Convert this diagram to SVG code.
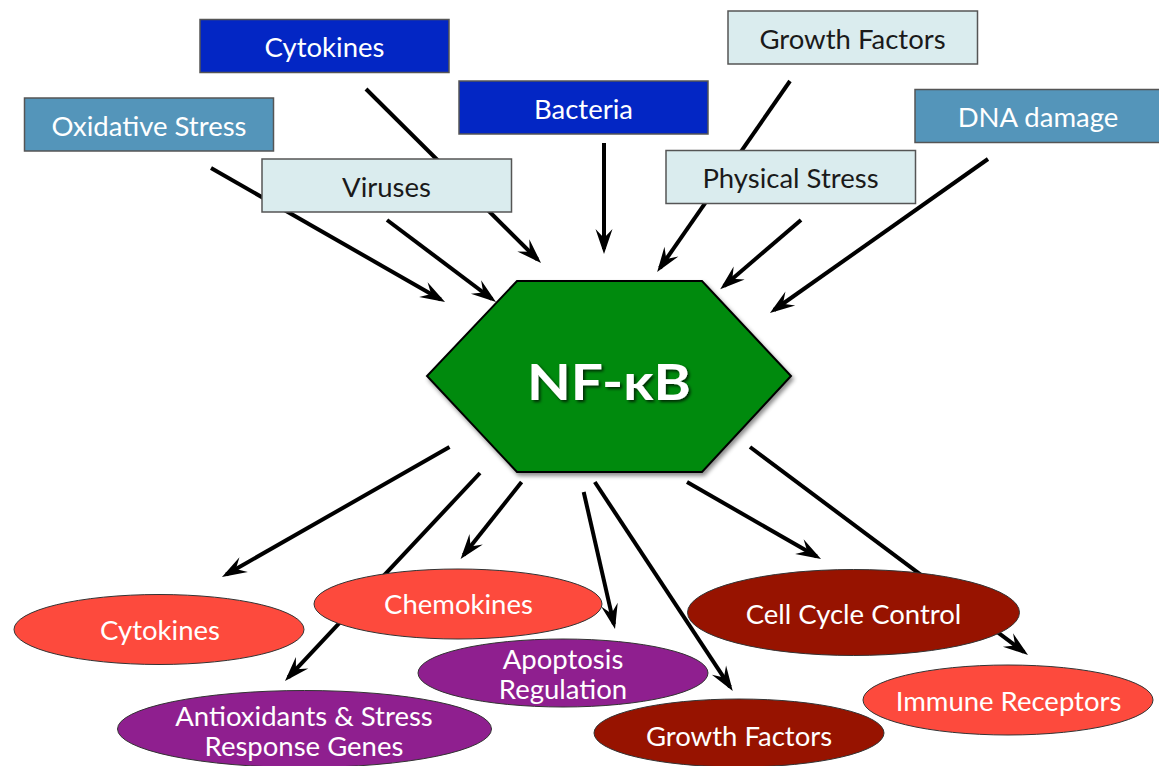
<svg xmlns="http://www.w3.org/2000/svg" width="1159" height="766" viewBox="0 0 1159 766">
<defs>
<marker id="ah" markerUnits="userSpaceOnUse" markerWidth="32" markerHeight="30" viewBox="-24 -12 32 24" refX="0" refY="0" orient="auto">
<path d="M5,0 L-20,-8.5 L-11,0 L-20,8.5 Z" fill="#000"/>
</marker>
<filter id="sh" x="-10%" y="-10%" width="130%" height="130%">
<feDropShadow dx="2" dy="3" stdDeviation="2" flood-color="#000" flood-opacity="0.45"/>
</filter>
<filter id="tsh" x="-10%" y="-10%" width="130%" height="140%">
<feDropShadow dx="2" dy="2" stdDeviation="1.5" flood-color="#000" flood-opacity="0.7"/>
</filter>
</defs>
<style>
.c{stroke:#000;stroke-width:4;fill:none;marker-end:url(#ah)}
.box{stroke:#555;stroke-width:1.5}
.db{fill:#0326C4}
.sb{fill:#5495BA}
.lb{fill:#DAECEE}
.t{font-family:Lato,"Open Sans",sans-serif;font-size:27.5px;text-anchor:middle}
.w{fill:#fff}
.k{fill:#1a1a1a}
.el{stroke:#333;stroke-width:1}
.red{fill:#FD4A3D}
.pur{fill:#8F1F8F}
.drd{fill:#971300}
</style>
<rect width="1159" height="766" fill="#fff"/>
<g id="connectors">
<line class="c" x1="366" y1="89" x2="537.5" y2="259.5"/>
<line class="c" x1="211" y1="168" x2="440.7" y2="299.5"/>
<line class="c" x1="387" y1="220" x2="492" y2="299"/>
<line class="c" x1="604" y1="143" x2="604" y2="249"/>
<line class="c" x1="790" y1="81" x2="660" y2="268"/>
<line class="c" x1="801" y1="220" x2="724" y2="286"/>
<line class="c" x1="988" y1="159" x2="774" y2="310"/>
<line class="c" x1="449.5" y1="447" x2="226.3" y2="574.5"/>
<line class="c" x1="480" y1="473" x2="288.4" y2="677.4"/>
<line class="c" x1="521.6" y1="482" x2="463.7" y2="555"/>
<line class="c" x1="583.7" y1="492" x2="613.9" y2="624.1"/>
<line class="c" x1="594.8" y1="482" x2="730" y2="686.8"/>
<line class="c" x1="687" y1="482" x2="816.7" y2="556.5"/>
<line class="c" x1="750" y1="447" x2="1024" y2="652"/>
</g>
<g id="n-cytokines-in"><rect class="box db" x="200" y="19.5" width="249" height="53"/><text class="t w" x="324.5" y="57">Cytokines</text></g>
<g id="n-oxidative"><rect class="box sb" x="24.5" y="98" width="249" height="53"/><text class="t w" x="149" y="135.5">Oxidative Stress</text></g>
<g id="n-bacteria"><rect class="box db" x="459" y="81" width="249" height="53"/><text class="t w" x="583.5" y="118.5">Bacteria</text></g>
<g id="n-growth-in"><rect class="box lb" x="728" y="11" width="249.5" height="53"/><text class="t k" x="852.5" y="48.5">Growth Factors</text></g>
<g id="n-dna"><rect class="box sb" x="915" y="89.5" width="250" height="53"/><text class="t w" x="1038" y="127">DNA damage</text></g>
<g id="n-viruses"><rect class="box lb" x="262" y="159" width="249.5" height="53"/><text class="t k" x="386.5" y="196.5">Viruses</text></g>
<g id="n-physical"><rect class="box lb" x="666" y="150.5" width="249.5" height="53"/><text class="t k" x="790.5" y="188">Physical Stress</text></g>
<g id="n-nfkb"><polygon points="517,281 702,281 791,376 702,472 517,472 427,376" fill="#028A0C" stroke="#000" stroke-width="2" filter="url(#sh)"/><text x="609" y="400" font-family="Lato,'Open Sans',sans-serif" font-weight="bold" font-size="50" fill="#fff" text-anchor="middle" filter="url(#tsh)" textLength="164" lengthAdjust="spacingAndGlyphs">NF-κB</text></g>
<g id="n-cytokines-out"><ellipse class="el red" cx="159" cy="629.5" rx="145" ry="35"/><text class="t w" x="160" y="640">Cytokines</text></g>
<g id="n-chemokines"><ellipse class="el red" cx="458" cy="604" rx="144" ry="35"/><text class="t w" x="458.5" y="613.5">Chemokines</text></g>
<g id="n-antiox"><ellipse class="el pur" cx="304.5" cy="729" rx="187" ry="38.5"/><text class="t w" x="304" y="726">Antioxidants &amp; Stress</text><text class="t w" x="304" y="756">Response Genes</text></g>
<g id="n-apoptosis"><ellipse class="el pur" cx="563" cy="673" rx="145" ry="34"/><text class="t w" x="563" y="669">Apoptosis</text><text class="t w" x="563" y="699">Regulation</text></g>
<g id="n-growth-out"><ellipse class="el drd" cx="739" cy="733" rx="145" ry="34"/><text class="t w" x="739" y="746">Growth Factors</text></g>
<g id="n-cellcycle"><ellipse class="el drd" cx="853.5" cy="612.5" rx="166" ry="43"/><text class="t w" x="853.5" y="623.5">Cell Cycle Control</text></g>
<g id="n-immune"><ellipse class="el red" cx="1008" cy="700" rx="145" ry="35"/><text class="t w" x="1008.5" y="710.5">Immune Receptors</text></g>
</svg>
